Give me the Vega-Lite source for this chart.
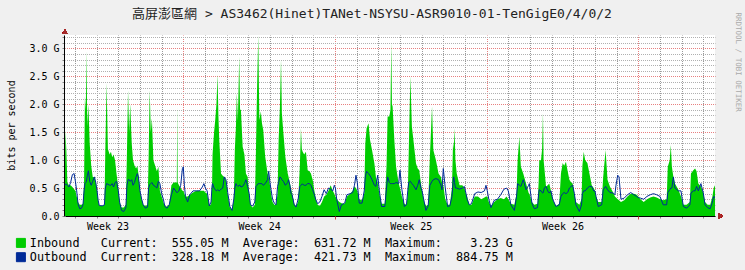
{
"$schema": "https://vega.github.io/schema/vega-lite/v6.json",
"width": 650, "height": 181,
"autosize": {"type": "none"},
"padding": {"left": 65, "top": 35, "right": 30, "bottom": 54},
"background": "#f0f0f0",
"config": {"view": {"fill": "#ffffff", "stroke": null}, "font": "DejaVu Sans Mono"},
"title": {"text": "高屏澎區網 > AS3462(Hinet)TANet-NSYSU-ASR9010-01-TenGigE0/4/0/2", "font": "DejaVu Sans Mono, Noto Sans CJK TC", "fontSize": 13, "fontWeight": "normal", "color": "#222222", "anchor": "middle", "frame": "group", "dx": -18, "dy": 19, "offset": 10},
"data": {"values": [
{"d":1.54,"inbound":0.9,"outbound":0.55},{"d":1.56,"inbound":1.53,"outbound":0.57},{"d":1.60,"inbound":1.2,"outbound":0.57},{"d":1.65,"inbound":0.6,"outbound":0.55},{"d":1.72,"inbound":0.55,"outbound":0.52},{"d":1.80,"inbound":0.55,"outbound":0.6},{"d":1.88,"inbound":0.52,"outbound":0.74},{"d":1.96,"inbound":0.48,"outbound":0.76},{"d":2.02,"inbound":0.45,"outbound":0.62},
{"d":2.08,"inbound":0.35,"outbound":0.45},{"d":2.14,"inbound":0.25,"outbound":0.22},{"d":2.22,"inbound":0.2,"outbound":0.13},{"d":2.30,"inbound":0.2,"outbound":0.14},{"d":2.37,"inbound":0.22,"outbound":0.2},{"d":2.42,"inbound":0.6,"outbound":0.45},{"d":2.46,"inbound":2.14,"outbound":0.58},{"d":2.50,"inbound":1.9,"outbound":0.6},{"d":2.53,"inbound":2.95,"outbound":0.62},{"d":2.57,"inbound":1.6,"outbound":0.72},{"d":2.62,"inbound":2.0,"outbound":0.81},{"d":2.68,"inbound":1.3,"outbound":0.62},{"d":2.75,"inbound":0.9,"outbound":0.55},{"d":2.82,"inbound":0.7,"outbound":0.62},{"d":2.90,"inbound":0.7,"outbound":0.7},{"d":2.96,"inbound":0.6,"outbound":0.6},{"d":3.02,"inbound":0.45,"outbound":0.45},
{"d":3.07,"inbound":0.3,"outbound":0.28},{"d":3.12,"inbound":0.18,"outbound":0.19},{"d":3.25,"inbound":0.18,"outbound":0.18},{"d":3.36,"inbound":0.2,"outbound":0.2},{"d":3.40,"inbound":1.15,"outbound":0.5},{"d":3.46,"inbound":2.38,"outbound":0.58},{"d":3.52,"inbound":1.2,"outbound":0.57},{"d":3.60,"inbound":1.1,"outbound":0.55},{"d":3.66,"inbound":1.15,"outbound":0.55},{"d":3.72,"inbound":1.05,"outbound":0.58},{"d":3.78,"inbound":1.1,"outbound":0.52},{"d":3.85,"inbound":1.0,"outbound":0.6},{"d":3.92,"inbound":0.75,"outbound":0.62},{"d":4.00,"inbound":0.5,"outbound":0.45},
{"d":4.06,"inbound":0.25,"outbound":0.25},{"d":4.15,"inbound":0.15,"outbound":0.1},{"d":4.25,"inbound":0.15,"outbound":0.08},{"d":4.35,"inbound":0.2,"outbound":0.15},{"d":4.40,"inbound":1.15,"outbound":0.55},{"d":4.45,"inbound":2.25,"outbound":0.65},{"d":4.50,"inbound":1.5,"outbound":0.65},{"d":4.55,"inbound":2.0,"outbound":0.62},{"d":4.62,"inbound":1.3,"outbound":0.65},{"d":4.68,"inbound":1.0,"outbound":0.55},{"d":4.75,"inbound":0.9,"outbound":0.6},{"d":4.82,"inbound":0.85,"outbound":0.7},{"d":4.88,"inbound":0.9,"outbound":0.76},{"d":4.93,"inbound":0.75,"outbound":0.7},{"d":5.00,"inbound":0.45,"outbound":0.45},
{"d":5.08,"inbound":0.3,"outbound":0.3},{"d":5.15,"inbound":0.2,"outbound":0.2},{"d":5.25,"inbound":0.18,"outbound":0.14},{"d":5.35,"inbound":0.2,"outbound":0.16},{"d":5.40,"inbound":1.05,"outbound":0.5},{"d":5.45,"inbound":2.25,"outbound":0.56},{"d":5.50,"inbound":1.5,"outbound":0.58},{"d":5.55,"inbound":1.75,"outbound":0.6},{"d":5.62,"inbound":1.0,"outbound":0.55},{"d":5.70,"inbound":0.9,"outbound":0.53},{"d":5.78,"inbound":0.8,"outbound":0.5},{"d":5.85,"inbound":0.88,"outbound":0.62},{"d":5.92,"inbound":0.45,"outbound":0.58},{"d":6.00,"inbound":0.35,"outbound":0.4},
{"d":6.08,"inbound":0.25,"outbound":0.3},{"d":6.15,"inbound":0.18,"outbound":0.17},{"d":6.25,"inbound":0.17,"outbound":0.14},{"d":6.35,"inbound":0.2,"outbound":0.2},{"d":6.45,"inbound":0.55,"outbound":0.38},{"d":6.55,"inbound":0.6,"outbound":0.5},{"d":6.65,"inbound":0.6,"outbound":0.45},{"d":6.70,"inbound":0.6,"outbound":0.42},{"d":6.72,"inbound":1.95,"outbound":0.42},{"d":6.74,"inbound":0.6,"outbound":0.43},{"d":6.80,"inbound":0.55,"outbound":0.45},{"d":6.88,"inbound":0.5,"outbound":0.55},{"d":6.96,"inbound":0.45,"outbound":0.85},{"d":7.00,"inbound":0.45,"outbound":0.88},
{"d":7.05,"inbound":0.4,"outbound":0.55},{"d":7.10,"inbound":0.35,"outbound":0.35},{"d":7.20,"inbound":0.35,"outbound":0.25},{"d":7.30,"inbound":0.38,"outbound":0.38},{"d":7.45,"inbound":0.42,"outbound":0.45},{"d":7.60,"inbound":0.45,"outbound":0.45},{"d":7.75,"inbound":0.45,"outbound":0.45},{"d":7.88,"inbound":0.45,"outbound":0.52},{"d":7.95,"inbound":0.45,"outbound":0.58},{"d":8.02,"inbound":0.42,"outbound":0.5},
{"d":8.10,"inbound":0.4,"outbound":0.45},{"d":8.20,"inbound":0.2,"outbound":0.18},{"d":8.28,"inbound":0.2,"outbound":0.25},{"d":8.33,"inbound":0.6,"outbound":0.55},{"d":8.35,"inbound":1.1,"outbound":0.58},{"d":8.42,"inbound":1.5,"outbound":0.5},{"d":8.47,"inbound":1.7,"outbound":0.47},{"d":8.53,"inbound":2.0,"outbound":0.45},{"d":8.58,"inbound":2.53,"outbound":0.47},{"d":8.62,"inbound":1.8,"outbound":0.46},{"d":8.66,"inbound":1.36,"outbound":0.45},{"d":8.74,"inbound":0.76,"outbound":0.48},{"d":8.82,"inbound":0.72,"outbound":0.5},{"d":8.89,"inbound":0.7,"outbound":0.7},{"d":8.97,"inbound":0.65,"outbound":0.65},{"d":9.05,"inbound":0.4,"outbound":0.42},
{"d":9.15,"inbound":0.15,"outbound":0.17},{"d":9.25,"inbound":0.12,"outbound":0.1},{"d":9.33,"inbound":0.3,"outbound":0.3},{"d":9.38,"inbound":1.2,"outbound":0.5},{"d":9.43,"inbound":1.6,"outbound":0.58},{"d":9.47,"inbound":2.2,"outbound":0.55},{"d":9.52,"inbound":1.7,"outbound":0.53},{"d":9.58,"inbound":2.85,"outbound":0.55},{"d":9.62,"inbound":1.9,"outbound":0.55},{"d":9.66,"inbound":1.9,"outbound":0.52},{"d":9.74,"inbound":1.24,"outbound":0.53},{"d":9.82,"inbound":1.1,"outbound":0.58},{"d":9.89,"inbound":0.76,"outbound":0.65},{"d":9.97,"inbound":0.7,"outbound":0.53},{"d":10.04,"inbound":0.4,"outbound":0.4},
{"d":10.10,"inbound":0.2,"outbound":0.2},{"d":10.20,"inbound":0.15,"outbound":0.18},{"d":10.30,"inbound":0.2,"outbound":0.25},{"d":10.35,"inbound":1.12,"outbound":0.53},{"d":10.40,"inbound":2.2,"outbound":0.55},{"d":10.46,"inbound":3.23,"outbound":0.58},{"d":10.51,"inbound":1.72,"outbound":0.58},{"d":10.58,"inbound":1.87,"outbound":0.58},{"d":10.63,"inbound":1.66,"outbound":0.58},{"d":10.69,"inbound":1.54,"outbound":0.55},{"d":10.78,"inbound":1.06,"outbound":0.58},{"d":10.89,"inbound":0.76,"outbound":0.65},{"d":10.94,"inbound":0.7,"outbound":0.8},{"d":11.00,"inbound":0.55,"outbound":0.6},
{"d":11.05,"inbound":0.4,"outbound":0.47},{"d":11.12,"inbound":0.25,"outbound":0.3},{"d":11.20,"inbound":0.2,"outbound":0.23},{"d":11.28,"inbound":0.2,"outbound":0.2},{"d":11.35,"inbound":0.4,"outbound":0.53},{"d":11.40,"inbound":1.36,"outbound":0.6},{"d":11.46,"inbound":1.96,"outbound":0.7},{"d":11.51,"inbound":2.8,"outbound":0.68},{"d":11.55,"inbound":1.84,"outbound":0.65},{"d":11.62,"inbound":1.48,"outbound":0.62},{"d":11.71,"inbound":1.06,"outbound":0.55},{"d":11.82,"inbound":0.76,"outbound":0.6},{"d":11.86,"inbound":0.7,"outbound":0.65},{"d":11.92,"inbound":0.58,"outbound":0.55},{"d":11.97,"inbound":0.5,"outbound":0.41},{"d":12.02,"inbound":0.41,"outbound":0.38},
{"d":12.12,"inbound":0.22,"outbound":0.2},{"d":12.20,"inbound":0.17,"outbound":0.16},{"d":12.30,"inbound":0.25,"outbound":0.3},{"d":12.38,"inbound":0.9,"outbound":0.53},{"d":12.43,"inbound":1.57,"outbound":0.55},{"d":12.47,"inbound":1.2,"outbound":0.57},{"d":12.51,"inbound":1.15,"outbound":0.57},{"d":12.58,"inbound":1.1,"outbound":0.55},{"d":12.66,"inbound":1.15,"outbound":0.55},{"d":12.74,"inbound":0.82,"outbound":0.58},{"d":12.82,"inbound":0.8,"outbound":0.58},{"d":12.89,"inbound":0.76,"outbound":0.55},{"d":12.97,"inbound":0.65,"outbound":0.47},{"d":13.05,"inbound":0.45,"outbound":0.38},
{"d":13.12,"inbound":0.3,"outbound":0.29},{"d":13.20,"inbound":0.2,"outbound":0.22},{"d":13.30,"inbound":0.18,"outbound":0.25},{"d":13.40,"inbound":0.25,"outbound":0.35},{"d":13.50,"inbound":0.35,"outbound":0.47},{"d":13.60,"inbound":0.38,"outbound":0.4},{"d":13.70,"inbound":0.45,"outbound":0.5},{"d":13.80,"inbound":0.55,"outbound":0.48},{"d":13.90,"inbound":0.45,"outbound":0.45},{"d":13.97,"inbound":0.4,"outbound":0.55},{"d":14.02,"inbound":0.35,"outbound":0.5},
{"d":14.08,"inbound":0.3,"outbound":0.3},{"d":14.20,"inbound":0.25,"outbound":0.08},{"d":14.30,"inbound":0.23,"outbound":0.2},{"d":14.45,"inbound":0.22,"outbound":0.23},{"d":14.55,"inbound":0.35,"outbound":0.38},{"d":14.70,"inbound":0.4,"outbound":0.4},{"d":14.82,"inbound":0.45,"outbound":0.42},{"d":14.90,"inbound":0.53,"outbound":0.55},{"d":14.97,"inbound":0.5,"outbound":0.73},{"d":15.03,"inbound":0.45,"outbound":0.6},
{"d":15.12,"inbound":0.3,"outbound":0.23},{"d":15.25,"inbound":0.28,"outbound":0.23},{"d":15.35,"inbound":0.4,"outbound":0.45},{"d":15.40,"inbound":1.3,"outbound":0.7},{"d":15.46,"inbound":1.57,"outbound":0.8},{"d":15.55,"inbound":1.66,"outbound":0.76},{"d":15.62,"inbound":1.36,"outbound":0.72},{"d":15.71,"inbound":1.18,"outbound":0.65},{"d":15.82,"inbound":0.94,"outbound":0.55},{"d":15.89,"inbound":0.7,"outbound":0.53},{"d":15.97,"inbound":0.6,"outbound":0.73},{"d":16.05,"inbound":0.4,"outbound":0.45},
{"d":16.15,"inbound":0.22,"outbound":0.17},{"d":16.30,"inbound":0.22,"outbound":0.17},{"d":16.38,"inbound":0.9,"outbound":0.5},{"d":16.43,"inbound":1.78,"outbound":0.7},{"d":16.51,"inbound":1.78,"outbound":0.6},{"d":16.56,"inbound":1.9,"outbound":0.58},{"d":16.60,"inbound":3.1,"outbound":0.58},{"d":16.63,"inbound":2.0,"outbound":0.58},{"d":16.66,"inbound":1.96,"outbound":0.58},{"d":16.74,"inbound":1.36,"outbound":0.58},{"d":16.82,"inbound":0.88,"outbound":0.6},{"d":16.94,"inbound":0.58,"outbound":0.58},{"d":17.00,"inbound":0.5,"outbound":0.82},
{"d":17.09,"inbound":0.35,"outbound":0.47},{"d":17.20,"inbound":0.22,"outbound":0.17},{"d":17.30,"inbound":0.2,"outbound":0.2},{"d":17.36,"inbound":0.4,"outbound":0.45},{"d":17.40,"inbound":1.06,"outbound":0.6},{"d":17.48,"inbound":2.5,"outbound":0.62},{"d":17.55,"inbound":1.6,"outbound":0.58},{"d":17.62,"inbound":1.36,"outbound":0.55},{"d":17.74,"inbound":0.94,"outbound":0.47},{"d":17.82,"inbound":0.85,"outbound":0.55},{"d":17.89,"inbound":0.82,"outbound":0.65},{"d":17.97,"inbound":0.58,"outbound":0.5},{"d":18.02,"inbound":0.45,"outbound":0.45},
{"d":18.12,"inbound":0.25,"outbound":0.25},{"d":18.20,"inbound":0.18,"outbound":0.1},{"d":18.30,"inbound":0.2,"outbound":0.18},{"d":18.38,"inbound":1.06,"outbound":0.55},{"d":18.48,"inbound":1.96,"outbound":0.62},{"d":18.54,"inbound":1.18,"outbound":0.65},{"d":18.66,"inbound":1.0,"outbound":0.67},{"d":18.78,"inbound":0.76,"outbound":0.65},{"d":18.89,"inbound":0.7,"outbound":0.55},{"d":18.94,"inbound":0.6,"outbound":0.47},{"d":19.00,"inbound":0.55,"outbound":0.85},
{"d":19.09,"inbound":0.3,"outbound":0.5},{"d":19.20,"inbound":0.2,"outbound":0.17},{"d":19.30,"inbound":0.2,"outbound":0.18},{"d":19.40,"inbound":0.5,"outbound":0.35},{"d":19.45,"inbound":1.33,"outbound":0.6},{"d":19.48,"inbound":1.2,"outbound":0.7},{"d":19.52,"inbound":1.57,"outbound":0.6},{"d":19.56,"inbound":1.0,"outbound":0.5},{"d":19.62,"inbound":0.76,"outbound":0.5},{"d":19.75,"inbound":0.55,"outbound":0.48},{"d":19.88,"inbound":0.55,"outbound":0.5},{"d":19.97,"inbound":0.5,"outbound":0.53},{"d":20.05,"inbound":0.4,"outbound":0.4},
{"d":20.10,"inbound":0.35,"outbound":0.3},{"d":20.20,"inbound":0.2,"outbound":0.2},{"d":20.30,"inbound":0.2,"outbound":0.22},{"d":20.45,"inbound":0.35,"outbound":0.4},{"d":20.60,"inbound":0.35,"outbound":0.43},{"d":20.75,"inbound":0.3,"outbound":0.42},{"d":20.90,"inbound":0.33,"outbound":0.45},{"d":20.97,"inbound":0.35,"outbound":0.55},{"d":21.03,"inbound":0.35,"outbound":0.45},
{"d":21.10,"inbound":0.25,"outbound":0.3},{"d":21.20,"inbound":0.18,"outbound":0.15},{"d":21.35,"inbound":0.25,"outbound":0.28},{"d":21.50,"inbound":0.3,"outbound":0.3},{"d":21.65,"inbound":0.32,"outbound":0.38},{"d":21.80,"inbound":0.3,"outbound":0.48},{"d":21.92,"inbound":0.35,"outbound":0.5},{"d":22.00,"inbound":0.3,"outbound":0.45},
{"d":22.12,"inbound":0.22,"outbound":0.2},{"d":22.28,"inbound":0.2,"outbound":0.1},{"d":22.38,"inbound":0.4,"outbound":0.35},{"d":22.43,"inbound":1.0,"outbound":0.58},{"d":22.51,"inbound":1.42,"outbound":0.55},{"d":22.58,"inbound":0.88,"outbound":0.53},{"d":22.69,"inbound":0.76,"outbound":0.65},{"d":22.82,"inbound":0.58,"outbound":0.47},{"d":22.94,"inbound":0.41,"outbound":0.55},{"d":22.97,"inbound":0.4,"outbound":0.58},
{"d":23.09,"inbound":0.25,"outbound":0.23},{"d":23.20,"inbound":0.2,"outbound":0.13},{"d":23.35,"inbound":0.22,"outbound":0.15},{"d":23.40,"inbound":0.6,"outbound":0.4},{"d":23.43,"inbound":1.0,"outbound":0.47},{"d":23.51,"inbound":1.0,"outbound":0.45},{"d":23.56,"inbound":1.2,"outbound":0.42},{"d":23.60,"inbound":1.84,"outbound":0.41},{"d":23.63,"inbound":1.0,"outbound":0.45},{"d":23.66,"inbound":0.88,"outbound":0.5},{"d":23.74,"inbound":0.53,"outbound":0.53},{"d":23.82,"inbound":0.55,"outbound":0.45},{"d":23.89,"inbound":0.58,"outbound":0.41},{"d":23.97,"inbound":0.45,"outbound":0.45},{"d":24.05,"inbound":0.3,"outbound":0.3},
{"d":24.20,"inbound":0.18,"outbound":0.17},{"d":24.35,"inbound":0.22,"outbound":0.2},{"d":24.43,"inbound":0.76,"outbound":0.35},{"d":24.51,"inbound":0.95,"outbound":0.4},{"d":24.58,"inbound":0.9,"outbound":0.42},{"d":24.66,"inbound":0.97,"outbound":0.4},{"d":24.74,"inbound":0.8,"outbound":0.42},{"d":24.82,"inbound":0.65,"outbound":0.5},{"d":24.90,"inbound":0.6,"outbound":0.53},{"d":24.97,"inbound":0.58,"outbound":0.55},{"d":25.05,"inbound":0.4,"outbound":0.4},
{"d":25.12,"inbound":0.25,"outbound":0.2},{"d":25.28,"inbound":0.2,"outbound":0.08},{"d":25.38,"inbound":0.3,"outbound":0.2},{"d":25.42,"inbound":0.9,"outbound":0.4},{"d":25.48,"inbound":1.15,"outbound":0.45},{"d":25.55,"inbound":1.0,"outbound":0.45},{"d":25.65,"inbound":0.95,"outbound":0.5},{"d":25.75,"inbound":0.75,"outbound":0.53},{"d":25.85,"inbound":0.55,"outbound":0.53},{"d":25.94,"inbound":0.5,"outbound":0.45},{"d":26.00,"inbound":0.45,"outbound":0.45},
{"d":26.05,"inbound":0.35,"outbound":0.35},{"d":26.15,"inbound":0.25,"outbound":0.17},{"d":26.31,"inbound":0.25,"outbound":0.2},{"d":26.38,"inbound":0.7,"outbound":0.47},{"d":26.49,"inbound":1.18,"outbound":0.53},{"d":26.58,"inbound":0.65,"outbound":0.47},{"d":26.69,"inbound":0.53,"outbound":0.42},{"d":26.85,"inbound":0.41,"outbound":0.41},{"d":26.92,"inbound":0.35,"outbound":0.38},{"d":26.97,"inbound":0.33,"outbound":0.55},{"d":27.05,"inbound":0.3,"outbound":0.73},{"d":27.11,"inbound":0.28,"outbound":0.7},
{"d":27.20,"inbound":0.25,"outbound":0.3},{"d":27.35,"inbound":0.28,"outbound":0.32},{"d":27.50,"inbound":0.35,"outbound":0.38},{"d":27.65,"inbound":0.4,"outbound":0.42},{"d":27.80,"inbound":0.4,"outbound":0.38},{"d":27.92,"inbound":0.38,"outbound":0.35},{"d":28.00,"inbound":0.35,"outbound":0.33},
{"d":28.10,"inbound":0.3,"outbound":0.32},{"d":28.25,"inbound":0.25,"outbound":0.3},{"d":28.40,"inbound":0.3,"outbound":0.35},{"d":28.55,"inbound":0.33,"outbound":0.38},{"d":28.70,"inbound":0.35,"outbound":0.4},{"d":28.85,"inbound":0.33,"outbound":0.38},{"d":29.00,"inbound":0.3,"outbound":0.35},
{"d":29.15,"inbound":0.28,"outbound":0.2},{"d":29.31,"inbound":0.3,"outbound":0.2},{"d":29.36,"inbound":0.88,"outbound":0.42},{"d":29.45,"inbound":1.0,"outbound":0.47},{"d":29.50,"inbound":1.27,"outbound":0.5},{"d":29.55,"inbound":0.88,"outbound":0.5},{"d":29.62,"inbound":0.7,"outbound":0.7},{"d":29.69,"inbound":0.58,"outbound":0.5},{"d":29.85,"inbound":0.47,"outbound":0.45},{"d":29.97,"inbound":0.35,"outbound":0.45},
{"d":30.08,"inbound":0.2,"outbound":0.17},{"d":30.23,"inbound":0.2,"outbound":0.14},{"d":30.38,"inbound":0.25,"outbound":0.2},{"d":30.43,"inbound":0.76,"outbound":0.41},{"d":30.54,"inbound":0.82,"outbound":0.45},{"d":30.62,"inbound":0.85,"outbound":0.45},{"d":30.69,"inbound":0.8,"outbound":0.53},{"d":30.77,"inbound":0.58,"outbound":0.45},{"d":30.89,"inbound":0.53,"outbound":0.58},{"d":31.00,"inbound":0.41,"outbound":0.41},
{"d":31.08,"inbound":0.25,"outbound":0.2},{"d":31.20,"inbound":0.2,"outbound":0.15},{"d":31.32,"inbound":0.2,"outbound":0.13},{"d":31.42,"inbound":0.35,"outbound":0.25},{"d":31.48,"inbound":0.5,"outbound":0.35},{"d":31.54,"inbound":0.55,"outbound":0.33}
]},
"layer": [
{
"mark": {"type": "area", "interpolate": "linear"},
"encoding": {
"x": {"field": "d", "type": "quantitative", "scale": {"domain": [1.54, 31.54], "nice": false, "zero": false},
 "axis": {"orient": "bottom", "title": null,
  "values": [2,3,4,5,6,8,9,10,11,12,13,15,16,17,18,19,20,22,23,24,25,26,27,29,30,31],
  "labels": false, "tickSize": 2, "tickColor": "#888888",
  "grid": false,
  "domain": true, "domainColor": "#000000"}},
"y": {"field": "inbound", "type": "quantitative", "scale": {"domain": [0, 3.24], "nice": false},
 "axis": {"orient": "left", "offset": 1,
  "values": [0,0.1,0.2,0.3,0.4,0.5,0.6,0.7,0.8,0.9,1,1.1,1.2,1.3,1.4,1.5,1.6,1.7,1.8,1.9,2,2.1,2.2,2.3,2.4,2.5,2.6,2.7,2.8,2.9,3,3.1,3.2],
  "labelExpr": "abs(datum.value*2 - round(datum.value*2)) < 0.01 ? (datum.value == 0 ? '0.0' : format(datum.value, '.1f') + ' G') : ''",
  "labelFont": "DejaVu Sans Mono", "labelFontSize": 10, "labelColor": "#000000", "labelOverlap": false, "labelFlush": false, "labelPadding": 3,
  "tickSize": 2, "tickColor": "#888888",
  "grid": true, "gridDash": [1, 1], "gridDashOffset": 0.5, "gridColor": "#b0b0b0", "gridOpacity": 1,
  "domain": true, "domainColor": "#000000",
  "title": "bits per second", "titleFont": "DejaVu Sans Mono", "titleFontSize": 10, "titleFontWeight": "normal", "titleColor": "#000000",
  "titleAngle": -90, "titleX": -53, "titleY": 90, "titleAlign": "center", "titleBaseline": "middle"}},
"color": {"datum": "Inbound\u00a0\u00a0\u00a0Current:\u00a0\u00a0555.05\u00a0M\u00a0\u00a0Average:\u00a0\u00a0631.72\u00a0M\u00a0\u00a0Maximum:\u00a0\u00a0\u00a0\u00a03.23\u00a0G",
 "scale": {"domain": ["Inbound\u00a0\u00a0\u00a0Current:\u00a0\u00a0555.05\u00a0M\u00a0\u00a0Average:\u00a0\u00a0631.72\u00a0M\u00a0\u00a0Maximum:\u00a0\u00a0\u00a0\u00a03.23\u00a0G", "Outbound\u00a0\u00a0Current:\u00a0\u00a0328.18\u00a0M\u00a0\u00a0Average:\u00a0\u00a0421.73\u00a0M\u00a0\u00a0Maximum:\u00a0\u00a0884.75\u00a0M"], "range": ["#00cc00", "#002a97"]},
 "legend": {"orient": "none", "legendX": -50, "legendY": 202, "direction": "vertical", "title": null, "padding": 0,
  "symbolType": "square", "symbolSize": 81, "symbolStrokeColor": "#000000", "symbolStrokeWidth": 1,
  "labelFont": "DejaVu Sans Mono", "labelFontSize": 11.8, "labelColor": "#000000", "labelLimit": 700, "labelOffset": 3, "rowPadding": 0.3,
  "encode": {"symbols": {"update": {"fill": {"scale": "color", "field": "value"}, "stroke": {"value": "#000000"}, "strokeWidth": {"value": 1}, "opacity": {"value": 1}, "shape": {"value": "square"}}}}}}
}
},
{
"mark": {"type": "line", "strokeWidth": 1, "interpolate": "linear"},
"encoding": {
"x": {"field": "d", "type": "quantitative",
 "axis": {"orient": "bottom", "title": null, "values": [3.5, 10.5, 17.5, 24.5],
  "labelExpr": "'Week ' + (23 + floor(datum.value / 7))",
  "labelFont": "DejaVu Sans Mono", "labelFontSize": 10, "labelColor": "#000000", "labelOverlap": false, "labelFlush": false, "labelPadding": 5,
  "ticks": false, "grid": false, "domain": false}},
"y": {"field": "outbound", "type": "quantitative",
 "axis": {"orient": "right", "labels": false, "ticks": false, "domain": false,
  "values": [0.5, 1, 1.5, 2, 2.5, 3],
  "grid": true, "gridDash": [1, 1], "gridDashOffset": 0.5, "gridColor": "#e88080", "gridOpacity": 1,
  "title": "RRDTOOL / TOBI OETIKER", "titleFont": "DejaVu Sans Mono", "titleFontSize": 7.5, "titleFontWeight": "normal", "titleColor": "#aaaaaa",
  "titleAngle": 90, "titleX": 22, "titleY": -23, "titleAlign": "left", "titleBaseline": "middle"}},
"color": {"datum": "Outbound\u00a0\u00a0Current:\u00a0\u00a0328.18\u00a0M\u00a0\u00a0Average:\u00a0\u00a0421.73\u00a0M\u00a0\u00a0Maximum:\u00a0\u00a0884.75\u00a0M"}
}
},
{
"mark": {"type": "point", "shape": "triangle-up", "filled": true, "size": 28, "color": "#a52a2a", "opacity": 1},
"encoding": {
"x": {"datum": 1.54, "type": "quantitative",
 "axis": {"orient": "bottom", "title": null, "values": [7, 14, 21, 28], "labels": false, "domain": false,
  "tickSize": 3, "tickColor": "#d04040",
  "grid": true, "gridDash": [1, 1], "gridDashOffset": 0.5, "gridColor": "#e88080", "gridOpacity": 1}},
"y": {"datum": 3.3, "type": "quantitative", "axis": null}
}
},
{
"mark": {"type": "point", "shape": "triangle-right", "filled": true, "size": 28, "color": "#a52a2a", "opacity": 1},
"encoding": {
"x": {"datum": 31.8, "type": "quantitative",
 "axis": {"orient": "bottom", "title": null, "values": [2,3,4,5,6,8,9,10,11,12,13,15,16,17,18,19,20,22,23,24,25,26,27,29,30,31],
  "labels": false, "ticks": false, "domain": false,
  "grid": true, "gridDash": [1, 1], "gridDashOffset": 0.5, "gridColor": "#999999", "gridOpacity": 1}},
"y": {"datum": 0, "type": "quantitative", "axis": null}
}
}
],
"resolve": {"axis": {"x": "independent", "y": "independent"}}
}
